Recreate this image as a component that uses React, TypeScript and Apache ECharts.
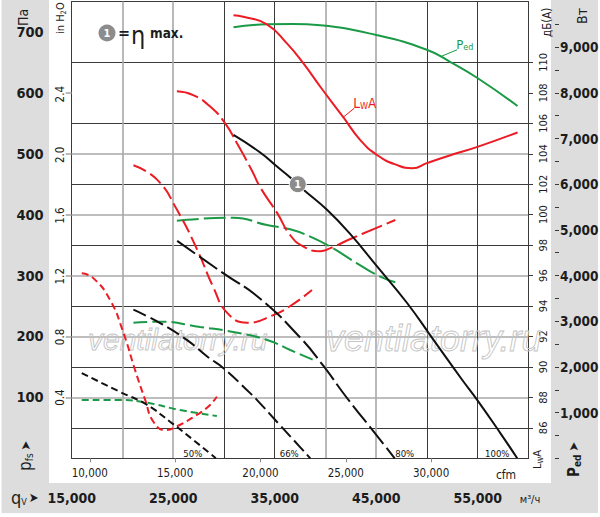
import React, { useEffect, useRef } from "react";
import * as echarts from "echarts";

const FONT = "'DejaVu Sans Condensed', 'Liberation Sans Narrow', 'Liberation Sans', sans-serif";
const WM_FONT = "'Liberation Sans', Arial, sans-serif";

const DARK = "#3a3a3a";
const GREY = "#a8a8a8";
const TXT = "#1c1c1c";
const BLACK = "#111111";
const RED = "#ec1c24";
const GREEN = "#1a9a46";

// ---- tick labels ----
const m3hLabels = [15000, 25000, 35000, 45000, 55000];
const cfmLabels = [10000, 15000, 20000, 25000, 30000];
const paLabels = [100, 200, 300, 400, 500, 600, 700];
const inH2OLabels = [0.4, 0.8, 1.2, 1.6, 2.0, 2.4];
const dbLabels = [86, 88, 90, 92, 94, 96, 98, 100, 102, 104, 106, 108, 110];
const wLabels = [1000, 2000, 3000, 4000, 5000, 6000, 7000, 8000, 9000];
const wTicks = [0, 500, 1000, 1500, 2000, 2500, 3000, 3500, 4000, 4500, 5000, 5500, 6000, 6500, 7000, 7500, 8000, 8500, 9000, 9500];
const speedLabels = ["100%", "80%", "66%", "50%"];

// ---- static pressure p_fs [m³/h, Pa] ----
const pfs100 = [[30940, 531], [33570, 502], [35220, 479], [36530, 461], [37840, 441], [40150, 408], [42450, 368], [45080, 315], [48040, 255], [50660, 194], [53460, 129], [54940, 96], [57240, 41], [58890, 0]];
const pfs80 = [[25390, 357], [29920, 304], [33570, 262], [37520, 198], [39780, 152], [42120, 99], [45080, 37], [46820, 0]];
const pfs66 = [[21080, 244], [23710, 222], [26370, 194], [28440, 166], [29950, 148], [32580, 107], [33240, 96], [35540, 54], [37520, 18], [38500, 0]];
const pfs50 = [[15990, 140], [19760, 109], [22400, 88], [24690, 60], [26990, 30], [29200, 0]];

// ---- sound power L_WA [m³/h, dB(A)] ----
const lwa100 = [[30940, 113.1], [31900, 113.0], [34230, 112.5], [36200, 111.25], [37810, 109.95], [39490, 108.4], [41750, 106.4], [43430, 104.9], [45110, 103.9], [47080, 103.25], [48560, 103.05], [50040, 103.4], [52310, 103.9], [54970, 104.45], [58920, 105.4]];
const lwa80 = [[25360, 108.1], [26960, 107.85], [28640, 107.1], [30120, 106.0], [31270, 104.7], [32750, 102.9], [33570, 101.8], [35250, 100.1], [36530, 98.65], [37840, 97.9], [39490, 97.6], [40470, 97.8], [42450, 98.4], [44740, 99.05], [46880, 99.65]];
const lwa66 = [[21080, 103.25], [23410, 102.3], [25390, 100.3], [27360, 97.7], [28940, 95.25], [30320, 93.55], [32290, 92.9], [34850, 93.4], [36530, 94.0], [38670, 95.05]];
const lwa50 = [[15990, 96.15], [17100, 95.85], [18780, 94.4], [20090, 92.25], [21240, 89.8], [22230, 87.85], [23050, 86.4], [24200, 85.85], [25360, 86.1], [27330, 86.85], [28470, 87.4], [29300, 88.05]];

// ---- input power P_ed [m³/h, W] ----
const ped100 = [[30940, 9435], [34230, 9500], [36830, 9507], [39490, 9478], [45010, 9266], [50040, 8938], [52310, 8675], [54970, 8325], [58920, 7712]];
const ped80 = [[25360, 5201], [30910, 5267], [34230, 5107], [36530, 5013], [38500, 4851], [40470, 4632], [43110, 4269], [45400, 3975], [46880, 3853]];
const ped66 = [[21080, 2968], [23710, 2990], [27650, 2874], [30910, 2765], [34260, 2590], [36530, 2371], [38830, 2152]];
const ped50 = [[15990, 1276], [19760, 1276], [22400, 1217], [25680, 1057], [29300, 926]];

// ---- annotation anchors (data coordinates) ----
const etaMax = [37270, 450];
const pedTag = [51300, 8790];
const lwaTag = [41750, 106.4];

const fmt = (v: number) => v.toLocaleString("en-US");
const near = (list: number[], v: number) => list.some((t) => Math.abs(t - v) < 1e-6);

let mctx: CanvasRenderingContext2D | null = null;
function tw(t: string, size: number, weight = "normal") {
  if (!mctx) mctx = document.createElement("canvas").getContext("2d");
  mctx!.font = `${weight} ${size}px ${FONT}`;
  return mctx!.measureText(t).width;
}

type Part = { t: string; size: number; weight?: string; dy?: number; gap?: number };
function composite(x: number, y: number, rotation: number, parts: Part[], color: string) {
  let cx = 0;
  const children: any[] = [];
  for (const p of parts) {
    cx += p.gap ?? 0;
    children.push({
      type: "text", x: cx, y: p.dy ?? 0, z: 50, silent: true,
      style: { text: p.t, fontSize: p.size, fontWeight: p.weight ?? "normal", fontFamily: FONT, fill: color, align: "left", verticalAlign: "middle" },
    });
    cx += tw(p.t, p.size, p.weight ?? "normal");
  }
  return { type: "group", x, y, rotation, children };
}

function txt(x: number, y: number, text: string, size: number, color = TXT, weight = "normal", align = "center") {
  return { type: "text", x, y, z: 50, silent: true, style: { text, fontSize: size, fontWeight: weight, fontFamily: FONT, fill: color, align, verticalAlign: "middle" } };
}

function curve(data: number[][], yAxisIndex: number, color: string, type: any, extra: any = {}) {
  return {
    type: "line", data, xAxisIndex: 0, yAxisIndex, smooth: 0.5,
    showSymbol: false, symbol: "none", silent: true, z: 3,
    lineStyle: { color, width: 2, type, cap: "butt" },
    emphasis: { disabled: true }, ...extra,
  };
}

const dash80 = [22, 5];
const dash66 = [14, 5];
const dash50 = [7, 4];

function buildOption(): any {
  return {
    animation: false,
    backgroundColor: "#ffffff",
    grid: { left: 71.7, right: 71.5, top: 1.5, bottom: 58.7, containLabel: false, outerBoundsMode: "none" },
    xAxis: [
      {
        type: "value", position: "bottom", min: 15000, max: 60000, interval: 5000,
        axisLine: { show: true, onZero: false, lineStyle: { color: DARK, width: 1 } },
        axisTick: { show: false },
        axisLabel: { customValues: m3hLabels, margin: 33, fontSize: 14, fontWeight: "bold", fontFamily: FONT, color: TXT, formatter: (v: number) => (near(m3hLabels, v) ? fmt(v) : "") },
        splitLine: { show: true, showMaxLine: false, lineStyle: { color: ["transparent", GREY, GREY, "transparent"], width: 1.6 } },
      },
      {
        type: "value", position: "bottom", min: 15000, max: 60000, interval: 5000,
        axisLine: { show: false, onZero: false }, axisTick: { show: false }, axisLabel: { show: false },
        splitLine: { show: true, lineStyle: { color: [DARK, "transparent", "transparent", DARK], width: 1 } },
      },
      {
        type: "value", position: "bottom", min: 8940, max: 35705,
        axisLine: { show: false, onZero: false },
        axisTick: { show: true, customValues: cfmLabels, length: 4, lineStyle: { color: "#888" } },
        axisLabel: { customValues: cfmLabels, margin: 9, fontSize: 11.5, fontFamily: FONT, color: TXT, formatter: (v: number) => (near(cfmLabels, v) ? fmt(v) : "") },
        splitLine: { show: false },
      },
    ],
    yAxis: [
      {
        type: "value", position: "left", min: 0, max: 750, interval: 100,
        axisLine: { show: true, onZero: false, lineStyle: { color: DARK, width: 1 } },
        axisTick: { show: true, customValues: paLabels.slice(0, 6), length: 6, lineStyle: { color: GREY, width: 1.6 } },
        axisLabel: { customValues: paLabels, margin: 28, fontSize: 14.5, fontWeight: "bold", fontFamily: FONT, color: TXT, formatter: (v: number) => (near(paLabels, v) ? String(v) : "") },
        splitLine: { show: true, showMaxLine: false, lineStyle: { color: [GREY, GREY, GREY, GREY, GREY, GREY, GREY, "transparent"], width: 1.6 } },
      },
      {
        type: "value", position: "left", inverse: true, min: 0, max: 750, interval: 100,
        axisLine: { show: false, onZero: false }, axisTick: { show: false }, axisLabel: { show: false },
        splitLine: { show: true, lineStyle: { color: DARK, width: 1 } },
      },
      {
        type: "value", position: "left", min: 0, max: 750 / 249.0889, interval: 0.4,
        axisLine: { show: false, onZero: false }, axisTick: { show: false },
        axisLabel: { customValues: inH2OLabels, rotate: 90, margin: 6, fontSize: 11.5, fontFamily: FONT, color: TXT, formatter: (v: number) => (near(inH2OLabels, v) ? v.toFixed(1) : "") },
        splitLine: { show: false },
      },
      {
        type: "value", position: "right", min: 84, max: 114, interval: 2,
        axisLine: { show: true, onZero: false, lineStyle: { color: DARK, width: 1 } },
        axisTick: { show: true, customValues: dbLabels, length: 4.5, lineStyle: { color: DARK } },
        axisLabel: { customValues: dbLabels, rotate: 90, margin: 9, fontSize: 11, fontFamily: FONT, color: TXT, formatter: (v: number) => (near(dbLabels, v) ? String(v) : "") },
        splitLine: { show: false },
      },
      {
        type: "value", position: "right", offset: 26.5, min: 0, max: 10000, interval: 500,
        axisLine: { show: false, onZero: false },
        axisTick: { show: true, customValues: wTicks, length: 4, lineStyle: { color: DARK } },
        axisLabel: { customValues: wLabels, margin: 5, fontSize: 13.5, fontWeight: "bold", fontFamily: FONT, color: TXT, formatter: (v: number) => (near(wLabels, v) ? fmt(v) : "") },
        splitLine: { show: false },
      },
    ],
    series: [
      curve(ped100, 4, GREEN, "solid"),
      curve(ped80, 4, GREEN, dash80),
      curve(ped66, 4, GREEN, dash66),
      curve(ped50, 4, GREEN, dash50),
      curve(lwa100, 3, RED, "solid"),
      curve(lwa80, 3, RED, dash80),
      curve(lwa66, 3, RED, dash66),
      curve(lwa50, 3, RED, dash50),
      curve(pfs100, 0, BLACK, "solid", {
        markPoint: {
          silent: true, symbol: "circle", symbolSize: 17,
          itemStyle: { color: "#8c8c8c", borderColor: "#ffffff", borderWidth: 1 },
          label: { show: true, formatter: "1", color: "#ffffff", fontWeight: "bold", fontSize: 11, fontFamily: FONT },
          data: [{ coord: etaMax }],
        },
      }),
      curve(pfs80, 0, BLACK, dash80),
      curve(pfs66, 0, BLACK, dash66),
      curve(pfs50, 0, BLACK, dash50),
    ],
  };
}

function buildGraphics(px: (yi: number, pt: number[]) => number[]): any[] {
  const R = Math.PI / 2;
  const g: any[] = [
    { type: "rect", z: -20, silent: true, shape: { x: 1.5, y: 0, width: 596.5, height: 513 }, style: { fill: "#dddddd" } },
    { type: "rect", z: -19, silent: true, shape: { x: 49, y: 0, width: 502, height: 483 }, style: { fill: "#ffffff" } },
    // watermark
    { type: "text", x: 88, y: 339, z: 1, silent: true, style: { text: "ventilatorry.ru", fontSize: 30, fontStyle: "italic", fontFamily: WM_FONT, fill: "none", stroke: "#c4c4c4", lineWidth: 0.9, align: "left", verticalAlign: "middle" } },
    { type: "text", x: 326, y: 338, z: 1, silent: true, style: { text: "ventilatorry.ru", fontSize: 36, fontStyle: "italic", fontFamily: WM_FONT, fill: "none", stroke: "#c4c4c4", lineWidth: 0.9, align: "left", verticalAlign: "middle" } },
    // axis titles
    composite(22.5, 26, R, [{ t: "Па", size: 14 }], TXT),
    composite(60.5, 34, R, [{ t: "in H", size: 11 }, { t: "2", size: 7.5, dy: 3 }, { t: "O", size: 11 }], TXT),
    composite(547, 37, R, [{ t: "дБ(A)", size: 11.5 }], TXT),
    composite(581.5, 24, R, [{ t: "Вт", size: 14 }], TXT),
    composite(25, 471, R, [{ t: "p", size: 17 }, { t: "fs", size: 10, dy: 4 }, { t: "➤", size: 13, gap: 3 }], TXT),
    composite(11, 497, 0, [{ t: "q", size: 18 }, { t: "V", size: 9, dy: 5 }, { t: "➤", size: 13, gap: 2 }], TXT),
    composite(537, 469, R, [{ t: "L", size: 11 }, { t: "W", size: 7.5, dy: 3 }, { t: "A", size: 11 }], TXT),
    composite(573.5, 477, R, [{ t: "P", size: 15, weight: "bold" }, { t: "ed", size: 10, weight: "bold", dy: 4 }, { t: "➤", size: 13, gap: 3 }], TXT),
    txt(506, 475, "cfm", 12),
    txt(530, 499, "м³/ч", 11),
    // legend: 1 = η max.
    { type: "circle", z: 50, silent: true, shape: { cx: 107, cy: 33, r: 8.5 }, style: { fill: "#8c8c8c" } },
    txt(107, 33.5, "1", 11, "#ffffff", "bold"),
    txt(118, 32, "=", 16, TXT, "bold", "left"),
    txt(131, 35, "η", 25, TXT, "normal", "left"),
    txt(150, 33, "max.", 13.5, TXT, "bold", "left"),
  ];

  // curve labels with leader lines
  const a = px(4, pedTag);
  const b = [a[0] + 17, a[1] - 7];
  g.push({ type: "line", z: 50, silent: true, shape: { x1: a[0], y1: a[1], x2: b[0], y2: b[1] }, style: { stroke: GREEN, lineWidth: 1 } });
  g.push(composite(b[0] - 1, b[1] - 5.5, 0, [{ t: "P", size: 13 }, { t: "ed", size: 9, dy: 3 }], GREEN));

  const c = px(3, lwaTag);
  const d = [c[0] + 11, c[1] - 9];
  g.push({ type: "line", z: 50, silent: true, shape: { x1: c[0], y1: c[1], x2: d[0], y2: d[1] }, style: { stroke: RED, lineWidth: 1 } });
  g.push(composite(d[0] - 1, d[1] - 5.5, 0, [{ t: "L", size: 13.5 }, { t: "W", size: 9, dy: 3 }, { t: "A", size: 13.5 }], RED));

  // speed labels at the end of each pressure curve
  const ends = [pfs100, pfs80, pfs66, pfs50].map((s) => s[s.length - 1]);
  const dx = [-20, 10, -21, -23];
  ends.forEach((e, i) => {
    const p = px(0, e);
    g.push(txt(p[0] + dx[i], p[1] - 5, speedLabels[i], 9.5, "#111111"));
  });
  return g;
}

export default function App() {
  const ref = useRef<HTMLDivElement>(null);
  useEffect(() => {
    const chart = echarts.init(ref.current!, null, { renderer: "svg" });
    chart.setOption(buildOption());
    const px = (yi: number, pt: number[]) => chart.convertToPixel({ xAxisIndex: 0, yAxisIndex: yi } as any, pt) as unknown as number[];
    chart.setOption({ graphic: buildGraphics(px) });
    return () => chart.dispose();
  }, []);
  return <div ref={ref} style={{ position: "fixed", left: 0, top: 0, width: 600, height: 517 }} />;
}
